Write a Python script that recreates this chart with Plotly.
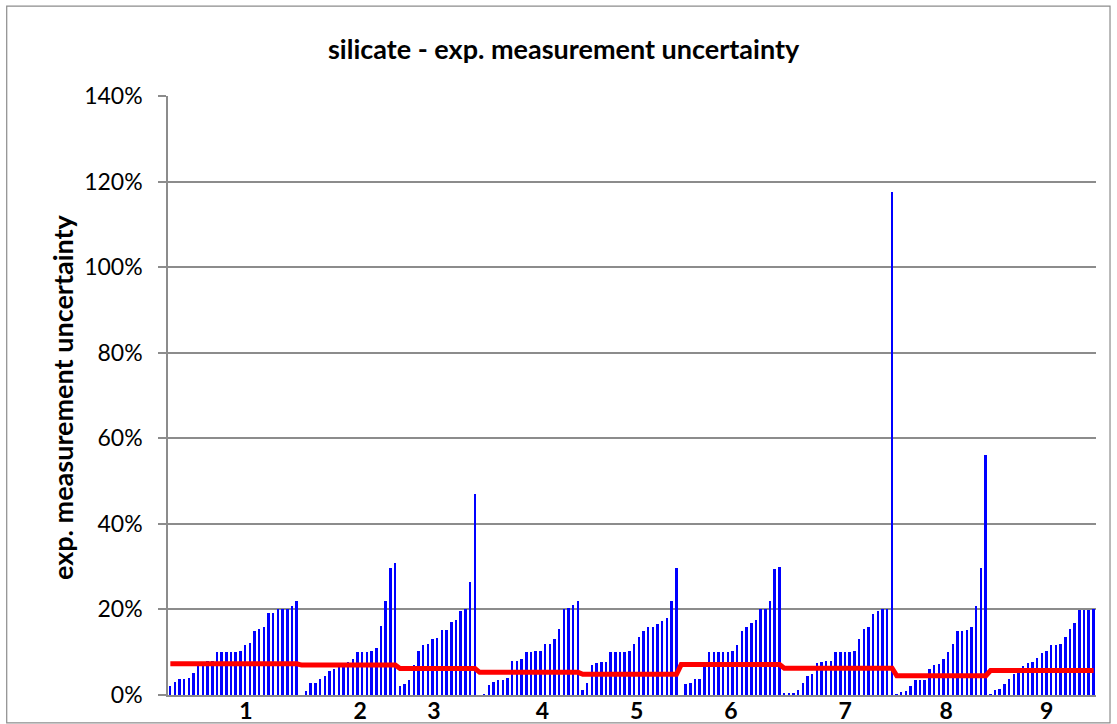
import plotly.graph_objects as go

# values in percent, sorted ascending within each group
group1 = [2.2, 3.1, 3.8, 3.8, 4.0, 5.2, 6.7, 7.3, 8.0, 8.0, 10.0, 10.0, 10.0, 10.0, 10.0,
          10.2, 11.8, 12.1, 14.9, 15.5, 16.0, 19.1, 19.1, 20.0, 20.0, 20.0, 20.9, 22.0]
group2 = [0.0, 0.9, 2.9, 2.9, 3.8, 4.5, 5.5, 6.0, 6.7, 7.5, 7.8, 8.5, 10.0, 10.0, 10.0,
          10.4, 10.9, 16.1, 22.0, 29.6, 30.9]
group3 = [2.2, 2.6, 3.6, 6.9, 10.2, 11.7, 11.9, 13.2, 13.4, 15.1, 15.1, 17.0, 17.5, 19.6,
          20.1, 26.3, 47.0]
group4 = [0.0, 0.2, 2.3, 3.0, 3.4, 3.6, 4.0, 7.9, 7.9, 8.5, 10.0, 10.0, 10.2, 10.3, 11.9,
          11.9, 13.2, 15.5, 20.0, 20.4, 21.1, 22.0]
group5 = [1.2, 2.9, 7.1, 7.5, 7.8, 7.8, 10.0, 10.0, 10.0, 10.0, 10.2, 12.0, 13.6, 14.9,
          15.8, 16.0, 16.7, 17.4, 18.1, 22.0, 29.6]
group6 = [0.0, 2.5, 2.9, 3.7, 3.7, 6.5, 10.0, 10.0, 10.0, 10.0, 10.0, 10.2, 11.7, 14.9,
          15.8, 16.9, 17.6, 20.0, 20.2, 22.0, 29.5, 29.9]
group7 = [0.5, 0.5, 0.5, 1.2, 2.9, 4.5, 4.9, 7.4, 7.7, 7.9, 8.0, 10.0, 10.0, 10.0, 10.1,
          10.2, 13.2, 15.5, 16.0, 18.9, 19.7, 20.1, 20.1, 117.5]
group8 = [0.2, 0.8, 1.0, 2.2, 3.6, 3.6, 3.6, 6.1, 7.0, 7.3, 8.4, 10.0, 12.0, 15.0, 15.0,
          15.1, 15.9, 20.9, 29.8, 56.0]
group9 = [0.2, 1.2, 1.3, 2.5, 3.7, 5.0, 5.1, 6.7, 7.5, 7.8, 8.75, 9.9, 10.3, 11.7, 11.8,
          12.0, 13.6, 15.4, 16.9, 19.9, 19.9, 19.9, 20.1]

groups = [group1, group2, group3, group4, group5, group6, group7, group8, group9]
group_level = [7.3, 7.0, 6.2, 5.3, 4.85, 7.1, 6.25, 4.5, 5.7]   # red line, percent

tick_labels = ["1", "2", "3", "4", "5", "6", "7", "8", "9"]
tick_positions = [16.1, 40.5, 56.25, 79.4, 99.5, 119.6, 144.0, 165.55, 187.0]

# build category sequence
bar_vals = []
line_vals = []
for g, lvl in zip(groups, group_level):
    bar_vals += [v / 100 for v in g]
    line_vals += [lvl / 100] * len(g)
x_idx = list(range(len(bar_vals)))

FONT = "Lato"
GRID = "#8c8c8c"

fig = go.Figure()
fig.add_trace(go.Bar(
    x=x_idx, y=bar_vals, width=0.42,
    marker=dict(color="#0000FF", line=dict(width=0)),
    hoverinfo="skip", showlegend=False,
))
fig.add_trace(go.Scatter(
    x=x_idx, y=line_vals, mode="lines",
    line=dict(color="#FF0000", width=5),
    hoverinfo="skip", showlegend=False,
))

fig.update_layout(
    width=1117, height=724,
    margin=dict(l=168, r=21, t=96, b=29),
    paper_bgcolor="white", plot_bgcolor="white",
    font=dict(family=FONT, color="black"),
    bargap=0,
    xaxis=dict(
        range=[-0.5, len(bar_vals) - 0.5],
        tickmode="array", tickvals=tick_positions, ticktext=tick_labels,
        tickfont=dict(size=23, family=FONT, color="black", weight="bold"),
        showgrid=False, zeroline=False,
        showline=True, linecolor=GRID, linewidth=1.5,
        ticks="", ticklabelstandoff=-5, automargin=False,
    ),
    yaxis=dict(
        range=[0, 1.4], dtick=0.2, tickformat=".0%",
        tickfont=dict(size=23, family=FONT, color="black"),
        showgrid=True, gridcolor=GRID, gridwidth=1.5,
        zeroline=False,
        showline=True, linecolor=GRID, linewidth=1.5,
        ticks="outside", ticklen=8, tickcolor=GRID, tickwidth=1.5,
        ticklabelstandoff=11, automargin=False,
    ),
    shapes=[dict(
        type="rect", xref="paper", yref="paper",
        x0=-0.1738, x1=1.0151, y0=-0.0467, y1=1.150,
        line=dict(color="#8c8c8c", width=1.2), fillcolor="rgba(0,0,0,0)",
        layer="below",
    )],
    annotations=[
        dict(text="<b>silicate - exp. measurement uncertainty</b>",
             xref="paper", yref="paper", x=0.4267, y=1.0785,
             xanchor="center", yanchor="middle", showarrow=False,
             font=dict(size=27, family=FONT, color="black")),
        dict(text="<b>exp. measurement uncertainty</b>",
             xref="paper", yref="paper", x=-0.1131, y=0.4975,
             xanchor="center", yanchor="middle", showarrow=False, textangle=-90,
             font=dict(size=27, family=FONT, color="black")),
    ],
)

fig.write_html("out.html", config={"displayModeBar": False},
               post_script="document.body.style.margin='0';")
